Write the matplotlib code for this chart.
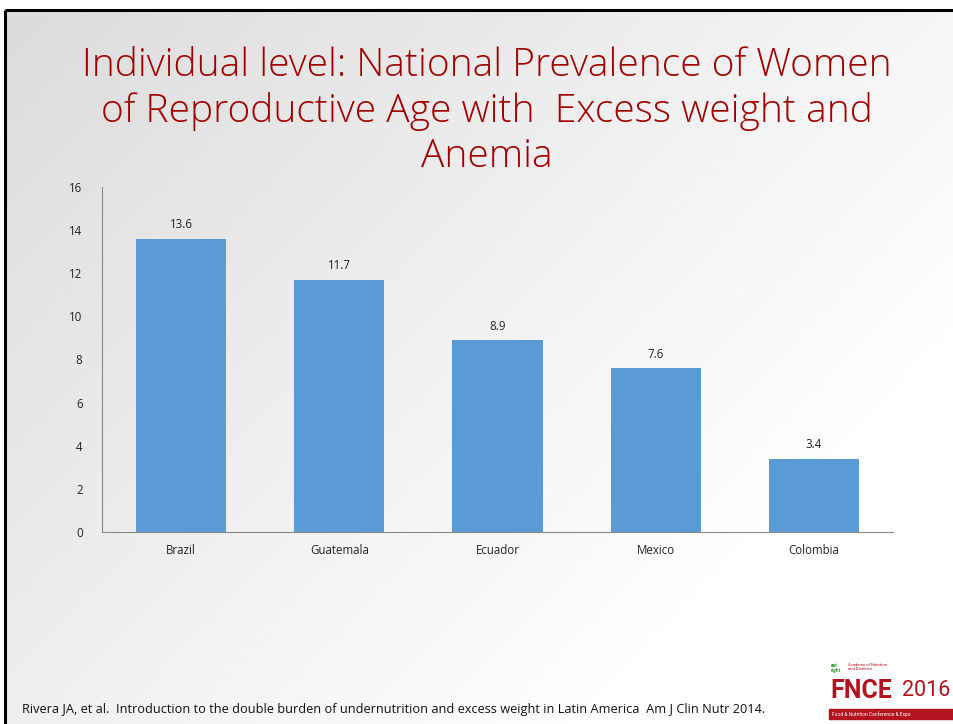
import numpy as np
import matplotlib.pyplot as plt
from matplotlib.patches import Rectangle

categories = ["Brazil", "Guatemala", "Ecuador", "Mexico", "Colombia"]
values = [13.6, 11.7, 8.9, 7.6, 3.4]
yticks = [0, 2, 4, 6, 8, 10, 12, 14, 16]

title = "Individual level: National Prevalence of Women\nof Reproductive Age with  Excess weight and\nAnemia"
footnote = "Rivera JA, et al.  Introduction to the double burden of undernutrition and excess weight in Latin America  Am J Clin Nutr 2014."

W, H = 954, 724
fig = plt.figure(figsize=(W / 100, H / 100), dpi=100)

# background gradient
bg = fig.add_axes([0, 0, 1, 1])
xx, yy = np.meshgrid(np.linspace(0, 1, 200), np.linspace(0, 1, 200))
g = 0.86 + 0.14 * np.clip((xx * 0.75 + yy * 0.55), 0, 1)
bg.imshow(np.dstack([g, g, g]), extent=[0, 1, 0, 1], origin="upper", aspect="auto")
bg.set_xlim(0, 1)
bg.set_ylim(0, 1)
bg.axis("off")
bg.add_patch(Rectangle((0, 1 - 9 / H), 1, 9 / H, color="white", zorder=2))
bg.add_patch(Rectangle((0, 0), 4 / W, 1, color="white", zorder=2))
bg.plot([5 / W, 5 / W], [0, 1 - 10 / H], color="black", lw=2.2, zorder=3, solid_capstyle="butt")
bg.plot([5 / W, 1], [1 - 10 / H, 1 - 10 / H], color="black", lw=2.2, zorder=3, solid_capstyle="butt")

fig.text(487 / W, 1 - 111 / H, title, ha="center", va="center", color="#A00000",
         fontsize=28, family="Open Sans", fontweight="light", linespacing=1.22)

ax = fig.add_axes([102 / W, 1 - 532 / H, (893 - 102) / W, (532 - 187) / H])
ax.patch.set_alpha(0)
x = np.arange(len(categories))
ax.bar(x, values, width=0.57, color="#5B9BD5", zorder=2)
for xi, v in zip(x, values):
    ax.text(xi, v + 0.35, f"{v}", ha="center", va="bottom", fontsize=8.3, color="#222222",
            family="Open Sans")
ax.set_xlim(-0.5, len(categories) - 0.5)
ax.set_ylim(0, 16)
ax.set_yticks(yticks)
ax.set_xticks(x)
ax.set_xticklabels(categories)
for lab in ax.get_xticklabels() + ax.get_yticklabels():
    lab.set_fontsize(8.3)
    lab.set_family("Open Sans")
    lab.set_color("#222222")
ax.tick_params(axis="x", length=0, pad=9)
ax.tick_params(axis="y", length=0, pad=14)
for s in ["top", "right"]:
    ax.spines[s].set_visible(False)
ax.spines["left"].set_color("#888888")
ax.spines["bottom"].set_color("#888888")

fig.text(22 / W, 1 - 710 / H, footnote, ha="left", va="center", fontsize=9.2,
         family="Open Sans", color="#111111")

# logo approximation
fig.text(830 / W, 1 - 691 / H, "FNCE", ha="left", va="center", fontsize=18,
         fontweight="bold", color="#B3121F", family="Roboto")
fig.text(902 / W, 1 - 691 / H, "2016", ha="left", va="center", fontsize=15.5,
         color="#B3121F", family="Roboto")
bg.add_patch(Rectangle((829 / W, 1 - 719 / H), 125 / W, 10 / H, color="#B3121F", zorder=4))
fig.text(832 / W, 1 - 714 / H, "Food & Nutrition Conference & Expo", ha="left", va="center",
         fontsize=3.5, color="white", family="Roboto")
fig.text(848 / W, 1 - 667 / H, "Academy of Nutrition\nand Dietetics", ha="left", va="center",
         fontsize=3, color="#B3121F", family="Roboto", linespacing=1.0)
fig.text(831 / W, 1 - 668 / H, "eat\nright", ha="left", va="center", fontsize=3.5,
         color="#3A9A3A", fontweight="bold", family="Roboto", linespacing=0.9)

fig.savefig("out.png", dpi=100)
